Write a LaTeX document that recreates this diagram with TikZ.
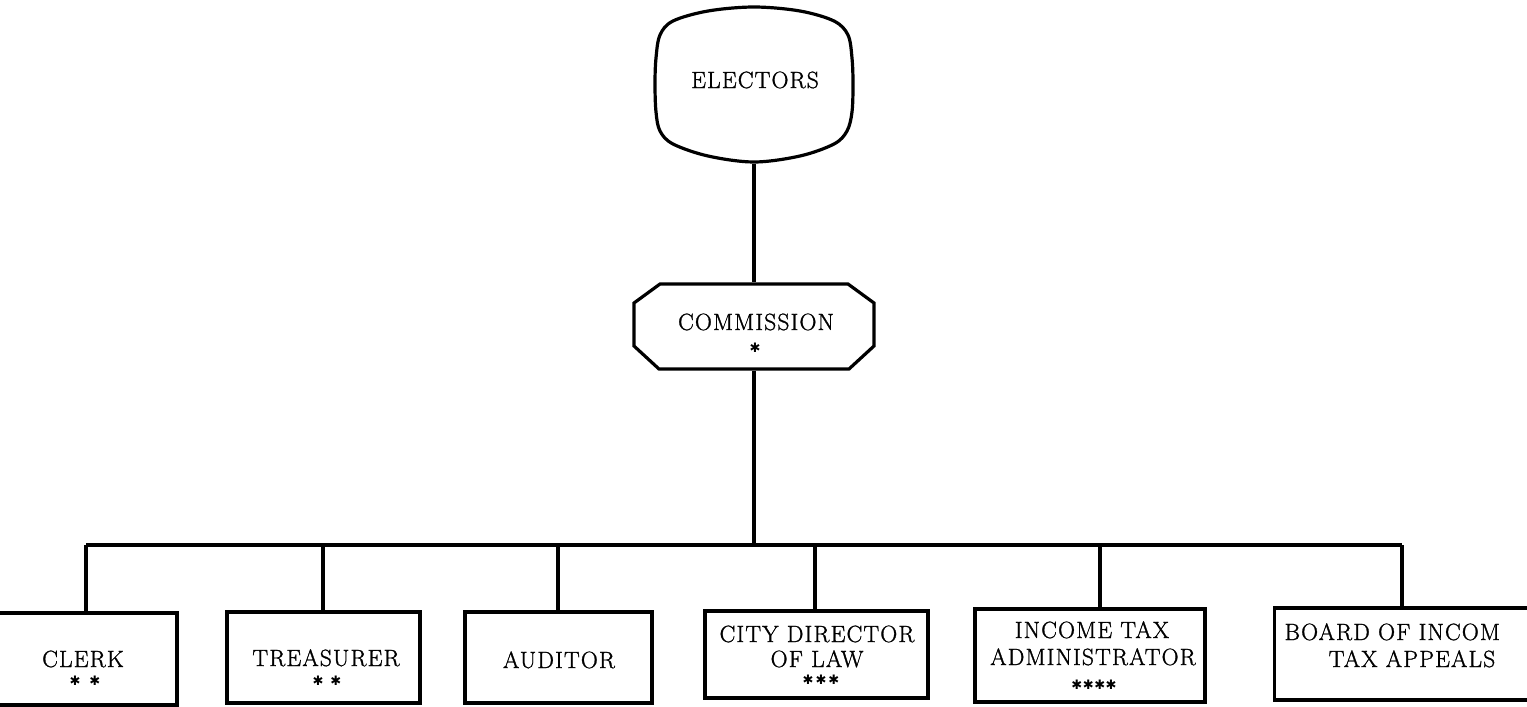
\documentclass[tikz,border=0pt]{standalone}
\usepackage{fontspec}
\newfontfamily\chartfont[LetterSpace=5,FakeBold=1.2]{Latin Modern Roman}
\newfontfamily\markfont{DejaVu Sans}
\begin{document}
\begin{tikzpicture}[x=1pt,y=-1pt,
  line width=3.2pt,
  label text/.style={font=\chartfont\fontsize{23.5}{28}\selectfont, inner sep=0pt, anchor=base},
  marks/.style={font=\markfont\fontsize{13}{14}\selectfont, inner sep=0pt},
  office/.style={draw, rectangle, inner sep=0pt},
  frame/.style={draw=none, inner sep=0pt}]
\useasboundingbox (0,0) rectangle (1527,707);
\clip (0,0) rectangle (1527,707);
\fill[white] (0,0) rectangle (1527,707);

% top of the chart
\node[frame, minimum width=198pt, minimum height=155pt] (electors) at (754,84.5) {};
\draw plot[smooth cycle, tension=0.55] coordinates {
  (754,7) (800,11) (834,21) (848,35) (852,58) (853,84) (852,112) (847,131) (834,144) (800,156)
  (754,162) (708,156) (673,144) (660,131) (656,112) (655,84) (656,58) (660,35) (673,21) (708,11)};
\node[label text] (electors-name) at (755,88) {ELECTORS};

\node[frame, minimum width=240pt, minimum height=85pt] (commission) at (754,326.5) {};
\draw (660,284) -- (848,284) -- (874,303) -- (874,346) -- (849,369)
      -- (659,369) -- (634,346) -- (634,303) -- cycle;
\node[label text] (commission-name) at (756,330) {COMMISSION};
\node[marks] (commission-mark) at (755,348) {✱};

% offices
\node[office, minimum width=184pt, minimum height=92pt] (clerk) at (85,659) {};
\node[office, minimum width=193pt, minimum height=91pt] (treasurer) at (323.5,657.5) {};
\node[office, minimum width=187pt, minimum height=91pt] (auditor) at (558.5,657.5) {};
\node[office, minimum width=223pt, minimum height=87pt] (law) at (816.5,654.5) {};
\node[office, minimum width=230pt, minimum height=93pt] (incometax) at (1090,655.5) {};
\node[office, minimum width=275pt, minimum height=92pt] (appeals) at (1412,654) {};

\node[label text] (clerk-name) at (83,667) {CLERK};
\node[marks] (clerk-mark) at (85,681) {✱\hspace{9pt}✱};
\node[label text] (treasurer-name) at (326,666) {TREASURER};
\node[marks] (treasurer-mark) at (327,681) {✱\hspace{7pt}✱};
\node[label text] (auditor-name) at (559,668) {AUDITOR};
\node[label text] (law-name1) at (817,642) {CITY DIRECTOR};
\node[label text] (law-name2) at (817,667) {OF LAW};
\node[marks] (law-mark) at (821,680) {✱\hspace{2pt}✱\hspace{2pt}✱};
\node[label text] (incometax-name1) at (1092,638) {INCOME TAX};
\node[label text] (incometax-name2) at (1093,665) {ADMINISTRATOR};
\node[marks] (incometax-mark) at (1094,685) {✱\hspace{0.5pt}✱\hspace{0.5pt}✱\hspace{0.5pt}✱};
\node[label text, anchor=base west] (appeals-name1) at (1283,640) {BOARD OF INCOM};
\node[label text] (appeals-name2) at (1412,667) {TAX APPEALS};

% connectors
\coordinate (bus) at (754,545);
\coordinate (j1) at (86,545);
\coordinate (j2) at (323,545);
\coordinate (j3) at (558,545);
\coordinate (j4) at (815,545);
\coordinate (j5) at (1100,545);
\coordinate (j6) at (1402,545);

\draw (electors.south) -- (commission.north);
\draw (commission.south) -- (bus);
\draw (j1) -- (j6);
\draw (j1) -- (j1 |- clerk.north);
\draw (j2) -- (j2 |- treasurer.north);
\draw (j3) -- (j3 |- auditor.north);
\draw (j4) -- (j4 |- law.north);
\draw (j5) -- (j5 |- incometax.north);
\draw (j6) -- (j6 |- appeals.north);
\end{tikzpicture}
\end{document}
